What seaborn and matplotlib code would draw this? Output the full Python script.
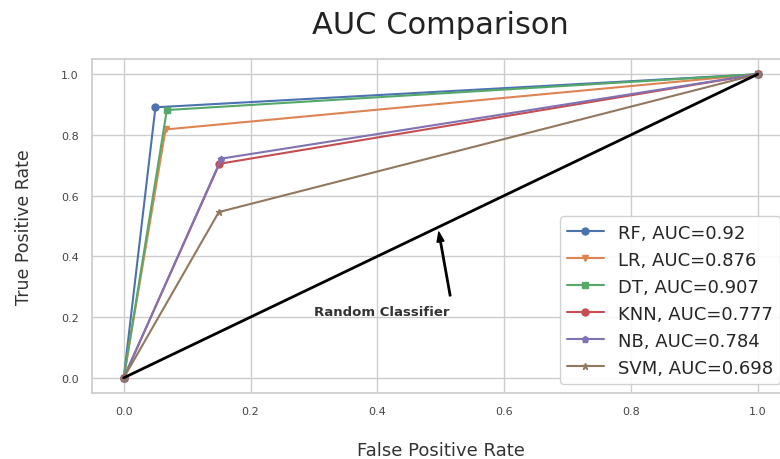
import numpy as np
import matplotlib
matplotlib.use("Agg")
import matplotlib.pyplot as plt
import seaborn as sns
import pandas as pd

models = ["RF", "LR", "DT", "KNN", "NB", "SVM"]
auc_scores = [0.92, 0.876, 0.907, 0.777, 0.784, 0.698]
fpr_mid = [0.050, 0.066, 0.068, 0.151, 0.154, 0.150]
tpr_mid = [0.891, 0.818, 0.882, 0.705, 0.722, 0.546]
markers = ["o", "v", "s", "o", "p", "*"]

sns.set_theme(style="whitegrid")
colors = sns.color_palette("deep", len(models))

fig = plt.figure(figsize=(7.8, 4.6), dpi=100)
ax = fig.add_axes([0.118, 0.1435, 0.894, 0.726])

for i, name in enumerate(models):
    fpr = [0.0, fpr_mid[i], 1.0]
    tpr = [0.0, tpr_mid[i], 1.0]
    ax.plot(fpr, tpr, marker=markers[i], color=colors[i], markersize=5,
            linewidth=1.5, label=f"{name}, AUC={auc_scores[i]}")

# random classifier diagonal
ax.plot([0, 1], [0, 1], color="black", linewidth=2)
ax.text(0.30, 0.22, "Random Classifier", fontsize=9.5, fontweight="bold",
        color="#333333", ha="left", va="center")
ax.annotate("", xy=(0.497, 0.48), xytext=(0.515, 0.27),
            arrowprops=dict(facecolor="black", edgecolor="black",
                            width=1.0, headwidth=5, headlength=7))

ax.set_xlim(-0.05, 1.05)
ax.set_ylim(-0.05, 1.05)
ax.tick_params(labelsize=8, colors="#444444")
ax.set_xlabel("False Positive Rate", fontsize=13, labelpad=18, color="#333333")
ax.set_ylabel("True Positive Rate", fontsize=12.5, labelpad=20, color="#333333")
fig.text(440 / 780, 1 - 25 / 460, "AUC Comparison", fontsize=22,
         ha="center", va="center", color="#222222")

ax.legend(loc="lower right", fontsize=13, framealpha=0.9)

plt.savefig("out.png", dpi=100)
plt.close()
